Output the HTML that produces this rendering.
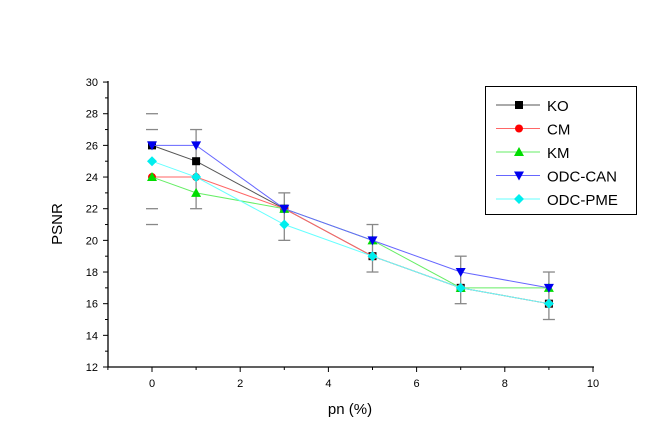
<!DOCTYPE html>
<html><head><meta charset="utf-8"><style>body{margin:0;background:#fff}svg{display:block;font-family:"Liberation Sans",Arial,sans-serif}</style></head>
<body>
<svg id="c" width="649" height="440" xmlns="http://www.w3.org/2000/svg"></svg>
<script>
const xVals=[0,1,3,5,7,9];
const seriesNames=["KO","CM","KM","ODC-CAN","ODC-PME"];
const KO=[26,25,22,19,17,16];
const CM=[24,24,22,19,17,16];
const KM=[24,23,22,20,17,17];
const ODCCAN=[26,26,22,20,18,17];
const ODCPME=[25,24,21,19,17,16];
const errLow=[21,22,20,18,16,15];
const errHigh=[28,27,23,21,19,18];
const xTicks=[0,2,4,6,8,10];
const yTicks=[12,14,16,18,20,22,24,26,28,30];
const NS="http://www.w3.org/2000/svg";
const svg=document.getElementById('c');
const X=v=>152+(v)*44.1, Y=v=>367-(v-12)*15.83;
function mk(t,a,p){const e=document.createElementNS(NS,t);for(const k in a)e.setAttribute(k,a[k]);(p||svg).appendChild(e);return e;}
// axes
let ax=mk('line',{x1:108,y1:81,x2:108,y2:367,stroke:'#000','stroke-width':1.3});


ax=mk('line',{x1:108,y1:367,x2:594,y2:367,stroke:'#000','stroke-width':1.3});


for(let v=12;v<=30;v++){const maj=v%2==0;mk('line',{x1:108-(maj?5:3),x2:108,y1:Y(v),y2:Y(v),stroke:'#000'});}
yTicks.forEach(v=>{const t=mk('text',{x:98,y:Y(v)+4,'text-anchor':'end','font-size':11});t.textContent=v;

});
for(let v=-1;v<=10;v++){const maj=v%2==0;mk('line',{x1:X(v),x2:X(v),y1:367,y2:367+(maj?5:3),stroke:'#000'});}
xTicks.forEach(v=>{const t=mk('text',{x:X(v),y:387,'text-anchor':'middle','font-size':11});t.textContent=v;

});
let t=mk('text',{x:350,y:414,'text-anchor':'middle','font-size':15});t.textContent='pn (%)';


t=mk('text',{x:62,y:224,'text-anchor':'middle','font-size':15,transform:'rotate(-90 62 224)'});t.textContent='PSNR';


// error bars
xVals.forEach((x,i)=>{const g=mk('g',{stroke:'#888','stroke-width':1.3});


if(i>0)mk('line',{x1:X(x),x2:X(x),y1:Y(errHigh[i]),y2:Y(errLow[i])},g);
[errLow[i],errHigh[i]].forEach(v=>mk('line',{x1:X(x)-6,x2:X(x)+6,y1:Y(v),y2:Y(v)},g));
if(i==0){mk('line',{x1:X(x)-6,x2:X(x)+6,y1:Y(27),y2:Y(27)},g);mk('line',{x1:X(x)-6,x2:X(x)+6,y1:Y(22),y2:Y(22)},g);}
});
const data=[KO,CM,KM,ODCCAN,ODCPME];
const lineCol=['#555','#f66','#6e6','#66f','#6ff'];
const markCol=['#000','#f00','#0d0','#00e','#0ee'];
const shapes=['sq','ci','up','dn','di'];
function marker(s,x,y,c,p){
 if(s=='sq')return mk('rect',{x:x-4,y:y-4,width:8,height:8,fill:c},p);
 if(s=='ci')return mk('circle',{cx:x,cy:y,r:4,fill:c},p);
 if(s=='up')return mk('polygon',{points:`${x-5},${y+4} ${x+5},${y+4} ${x},${y-5}`,fill:c},p);
 if(s=='dn')return mk('polygon',{points:`${x-5},${y-4} ${x+5},${y-4} ${x},${y+5}`,fill:c},p);
 return mk('polygon',{points:`${x},${y-5} ${x+5},${y} ${x},${y+5} ${x-5},${y}`,fill:c},p);
}
data.forEach((d,s)=>{const g=mk('g',{});


mk('polyline',{points:d.map((v,i)=>X(xVals[i])+','+Y(v)).join(' '),fill:'none',stroke:lineCol[s],'stroke-width':1},g);
d.forEach((v,i)=>{const m=marker(shapes[s],X(xVals[i]),Y(v),markCol[s],g);

});});
// legend
const lg=mk('g',{});


mk('rect',{x:485.5,y:86.5,width:151,height:128,fill:'#fff',stroke:'#000'},lg);
seriesNames.forEach((n,s)=>{const y=105+s*23.5;const e=mk('g',{},lg);


mk('line',{x1:496,x2:540,y1:y,y2:y,stroke:lineCol[s]},e);
marker(shapes[s],519,y,markCol[s],e);
const tt=mk('text',{x:547,y:y+6,'font-size':15},e);tt.textContent=n;});
</script>
</body></html>
